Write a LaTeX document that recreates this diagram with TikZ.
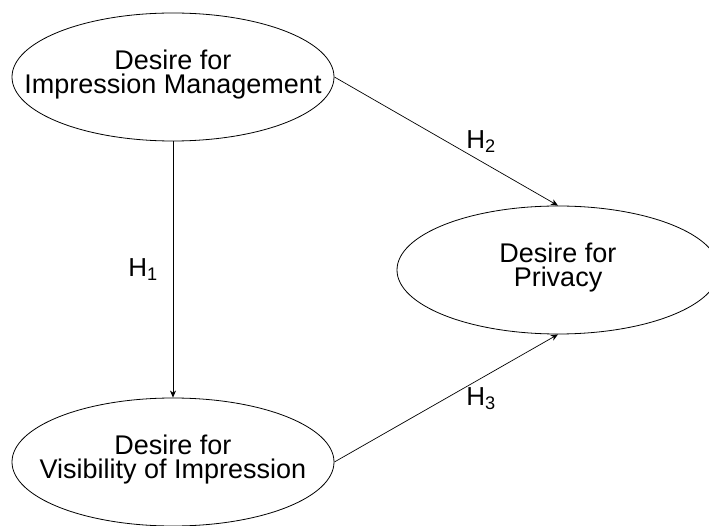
\documentclass[tikz,border=0pt]{standalone}
\usepackage{fontspec}
\setmainfont{Liberation Sans}
\usetikzlibrary{shapes.geometric,arrows.meta}
\tikzset{
  construct/.style={draw, ellipse, line width=0.8pt, minimum width=322pt, minimum height=128pt, inner sep=0pt},
  txt/.style={align=center, font=\fontsize{27}{24}\selectfont},
  hyp/.style={font=\fontsize{26}{28}\selectfont, inner sep=0pt},
  path/.style={line width=0.7pt, -{Stealth[length=7pt,width=6pt,inset=2pt]}}
}
\begin{document}
\begin{tikzpicture}[x=1pt,y=1pt]
\useasboundingbox (0,0) rectangle (709,525);
\node[construct] (imp) at (173,448) {};
\node[construct] (vis) at (173,63) {};
\node[construct] (priv) at (558,255) {};
\node[txt] (impt) at ([yshift=2pt]imp.center) {Desire for\\Impression Management};
\node[txt] (vist) at ([yshift=2pt]vis.center) {Desire for\\Visibility of Impression};
\node[txt] (privt) at ([yshift=2pt]priv.center) {Desire for\\Privacy};
\draw[path] (imp.south) -- node[hyp, pos=0.5, xshift=-30pt] (h1) {H\textsubscript{1}} (vis.north);
\draw[path] (imp.east) -- node[hyp, pos=0.656, yshift=20pt] (h2) {H\textsubscript{2}} (priv.north);
\draw[path] (vis.east) -- node[hyp, pos=0.656, yshift=-20pt] (h3) {H\textsubscript{3}} (priv.south);
\end{tikzpicture}
\end{document}
